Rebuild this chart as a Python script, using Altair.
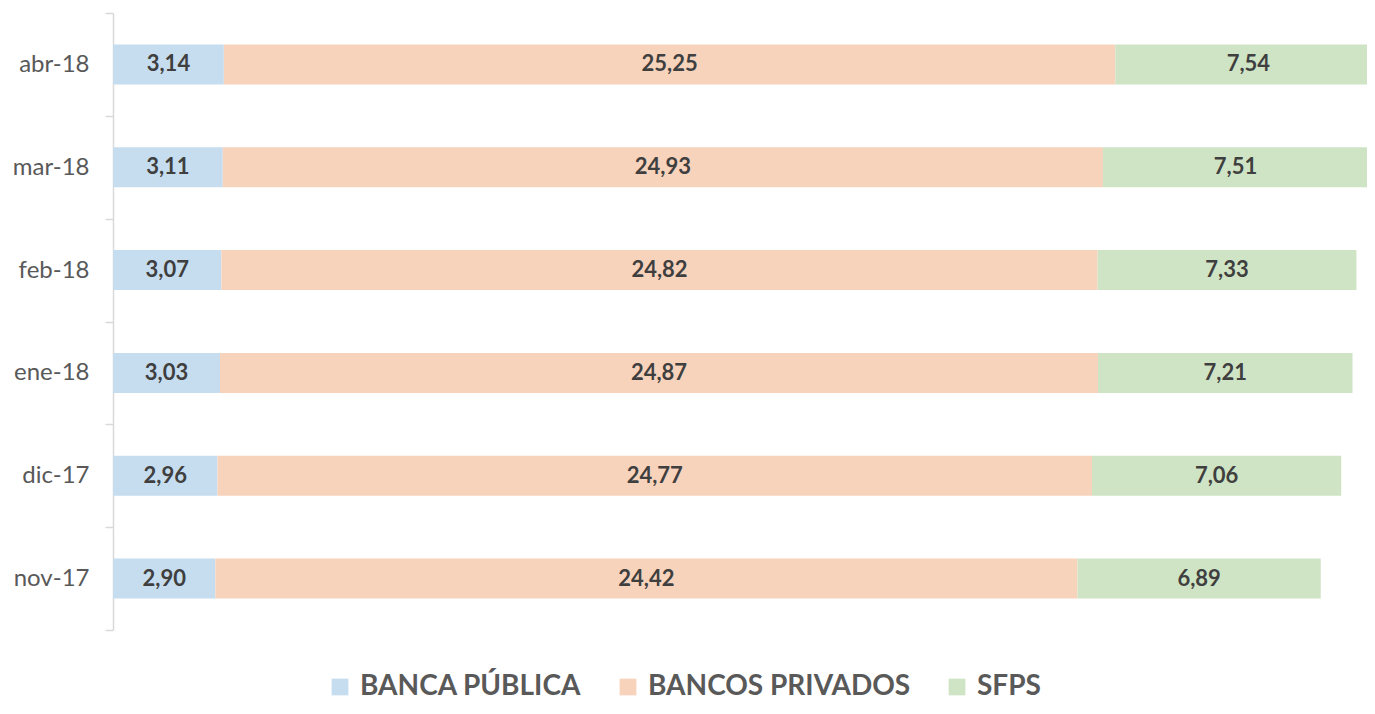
import altair as alt
import pandas as pd

months = ["abr-18", "mar-18", "feb-18", "ene-18", "dic-17", "nov-17"]
series = ["BANCA PÚBLICA", "BANCOS PRIVADOS", "SFPS"]
publica = [3.14, 3.11, 3.07, 3.03, 2.96, 2.90]
privados = [25.25, 24.93, 24.82, 24.87, 24.77, 24.42]
sfps = [7.54, 7.51, 7.33, 7.21, 7.06, 6.89]
colors = ["#C6DDF0", "#F8D3BC", "#CFE4C5"]

rows = []
for i, m in enumerate(months):
    for j, (s, vals) in enumerate(zip(series, [publica, privados, sfps])):
        rows.append({"month": m, "series": s, "value": vals[i], "order": j})
df = pd.DataFrame(rows)

base = alt.Chart(df).transform_stack(
    stack="value", groupby=["month"], as_=["x0", "x1"],
    sort=[alt.SortField("order", order="ascending")]
).transform_calculate(
    mid="(datum.x0 + datum.x1) / 2",
    label="replace(format(datum.value, '.2f'), '.', ',')"
)

yenc = alt.Y("month:N", sort=months, title=None,
             scale=alt.Scale(paddingInner=0, paddingOuter=0),
             axis=alt.Axis(tickBand="extent", tickSize=8, tickColor="#D9D9D9",
                           tickWidth=1.5, domainColor="#D9D9D9", domainWidth=1.5,
                           grid=False,
                           labelFont="Lato", labelFontSize=24, labelColor="#595959",
                           labelPadding=16))
xscale = alt.Scale(domain=[0, 35.52], nice=False, zero=True)

bars = base.mark_bar(size=40, clip=True).encode(
    y=yenc,
    x=alt.X("x0:Q", scale=xscale, axis=None),
    x2="x1:Q",
    color=alt.Color("series:N", sort=series,
                    scale=alt.Scale(domain=series, range=colors),
                    legend=alt.Legend(title=None, orient="none", direction="horizontal",
                                      legendX=213, legendY=660,
                                      symbolType="square", symbolSize=280,
                                      symbolStrokeWidth=0, symbolOpacity=1,
                                      labelFont="Lato", labelFontSize=28,
                                      labelFontWeight="bold", labelColor="#595959",
                                      labelOffset=6, columnPadding=32,
                                      labelLimit=400)),
    order=alt.Order("order:Q"),
)

labels = base.mark_text(font="Lato", fontSize=22, fontWeight="bold",
                        color="#3F3F3F", baseline="middle", align="center").encode(
    y=yenc,
    x=alt.X("mid:Q", scale=xscale, axis=None),
    text="label:N",
)

chart = alt.layer(bars, labels).properties(
    width=1254, height=617,
    background="white",
    autosize=alt.AutoSizeParams(type="none"),
    padding={"left": 105, "top": 5, "right": 0, "bottom": 70},
).configure_view(stroke=None).configure_axis(grid=False)

chart.save("out.html", embed_options={"renderer": "svg", "actions": False})
